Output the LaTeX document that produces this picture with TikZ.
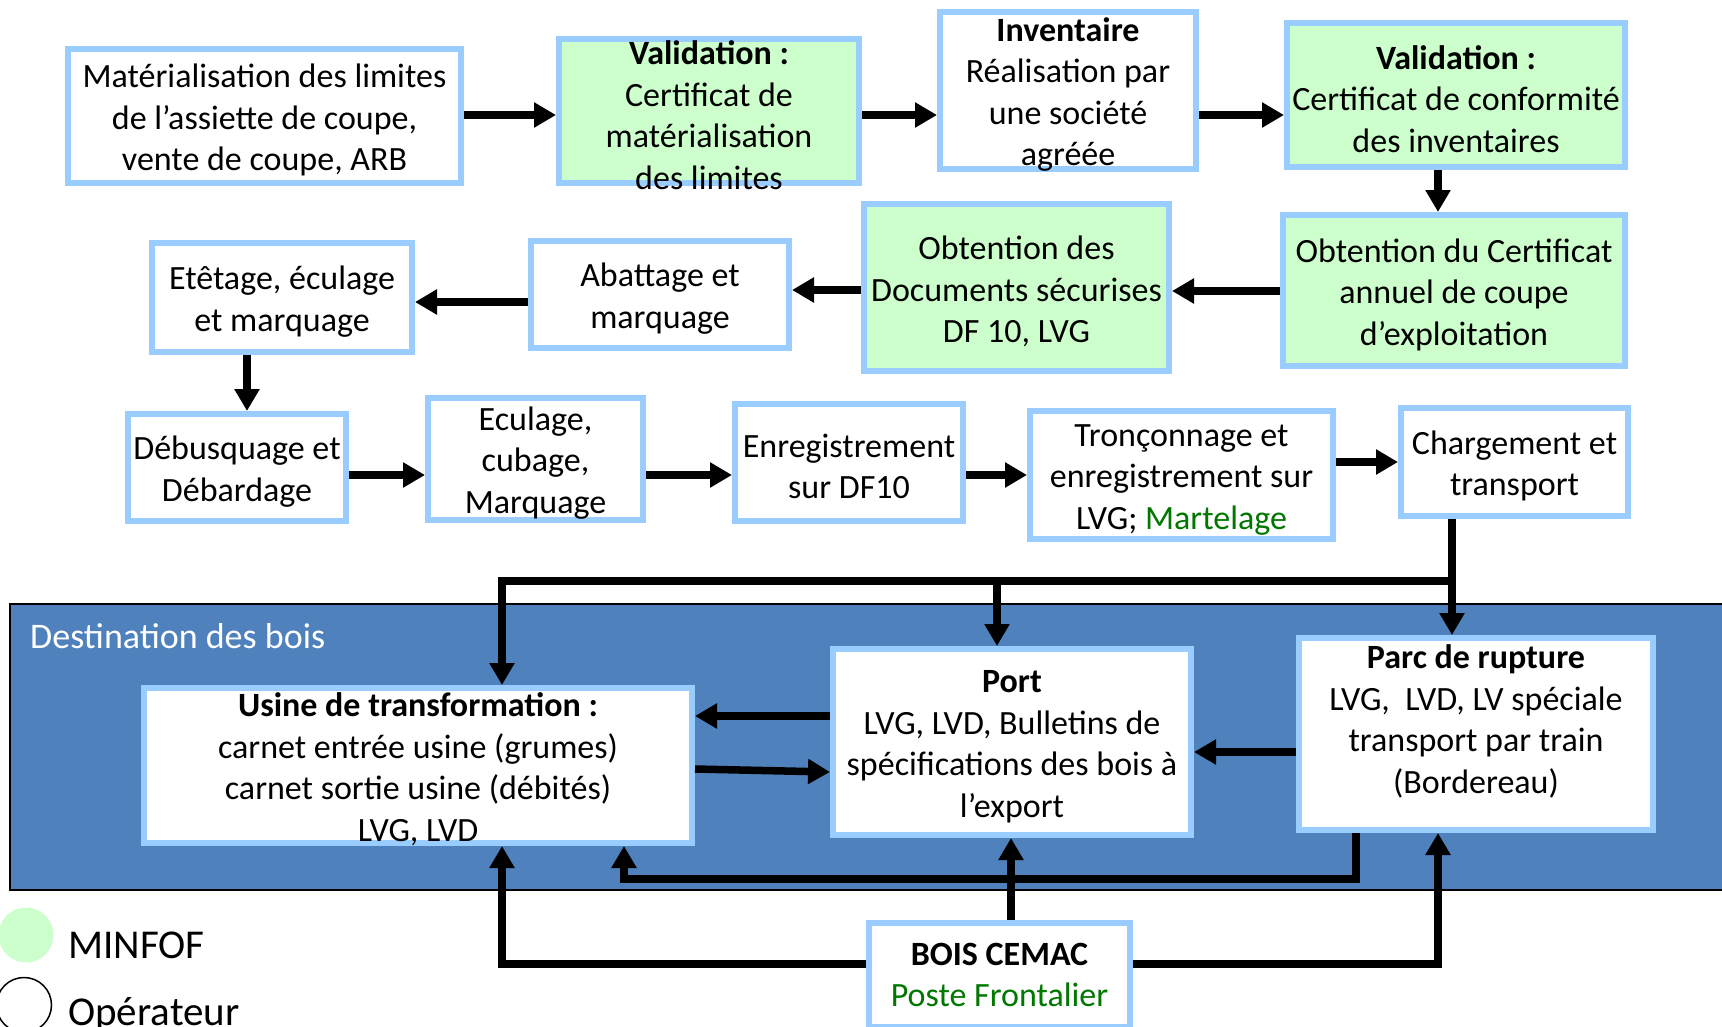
\documentclass[tikz,border=0pt]{standalone}
\usepackage{fontspec}
\setmainfont{Carlito}
\usetikzlibrary{arrows.meta,calc}
\definecolor{bordblue}{RGB}{153,204,255}
\definecolor{lgreen}{RGB}{204,255,204}
\definecolor{regblue}{RGB}{79,129,189}
\definecolor{fgreen}{RGB}{0,120,0}
% #1 box style, #2 name, #3 cx, #4 cy, #5 width, #6 height, #7 text shift, #8 text
\newcommand{\bnode}[8]{%
  \node[#1, minimum width=#5pt, minimum height=#6pt] (#2) at (#3,#4) {};
  \node[txt] (#2t) at ([yshift=-#7pt]#2.center) {#8};}
\begin{document}
\begin{tikzpicture}[x=1pt,y=-1pt,
  box/.style={draw=bordblue, line width=6pt, fill=white, inner sep=0pt},
  mbox/.style={box, fill=lgreen},
  txt/.style={align=center, inner sep=0pt, font=\fontsize{34}{41.5}\selectfont},
  arr/.style={line width=7.5pt, -{Triangle[length=22pt,width=24pt]}},
  ln/.style={line width=7.5pt}]
\useasboundingbox (0,0) rectangle (1722,1026);
\clip (0,0) rectangle (1722,1026);

% region
\draw[fill=regblue, line width=2.5pt] (10,604) rectangle (1740,890);
\node[anchor=base west, text=white, font=\fontsize{36}{43}\selectfont, inner sep=0pt] (dest) at (30,648) {Destination des bois};

% top row
\bnode{box}{A}{264.5}{116}{393}{134}{4}
  {Matérialisation des limites\\de l’assiette de coupe,\\vente de coupe, ARB}
\bnode{mbox}{B}{709}{111}{300}{144}{4}
  {\textbf{Validation :}\\Certificat de\\matérialisation\\des limites}
\bnode{box}{C}{1068}{90.5}{256}{157}{4}
  {\textbf{Inventaire}\\Réalisation par\\une société\\agréée}
\bnode{mbox}{D}{1456}{95}{338}{144}{4}
  {\textbf{Validation :}\\Certificat de conformité\\des inventaires}

% second row
\bnode{mbox}{E}{1454}{290.5}{342}{151}{4}
  {Obtention du Certificat\\annuel de coupe\\d'exploitation}
\bnode{mbox}{F}{1016.5}{287.5}{305}{167}{4}
  {Obtention des\\Documents sécurises\\DF 10, LVG}
\bnode{box}{G}{660}{294.5}{258}{107}{4}
  {Abattage et\\marquage}
\bnode{box}{H}{282}{297.5}{260}{109}{4}
  {Etêtage, éculage\\et marquage}

% third row
\bnode{box}{I}{237}{467.5}{218}{107}{4}
  {Débusquage et\\Débardage}
\bnode{box}{J}{535.5}{459}{215}{122}{4}
  {Eculage,\\cubage,\\Marquage}
\bnode{box}{K}{849}{462.5}{228}{117}{4}
  {Enregistrement\\sur DF10}
\bnode{box}{L}{1181.5}{475}{303}{128}{5}
  {Tronçonnage et\\enregistrement sur\\LVG; {\color{fgreen}Martelage}}
\bnode{box}{M}{1514.5}{462}{227}{108}{4}
  {Chargement et\\transport}

% destinations
\bnode{box}{N}{418}{765.5}{548}{155}{3.5}
  {\textbf{Usine de transformation :}\\carnet entrée usine (grumes)\\carnet sortie usine (débités)\\LVG, LVD}
\bnode{box}{O}{1012}{742}{358}{186}{4.5}
  {\textbf{Port}\\LVG, LVD, Bulletins de\\spécifications des bois à\\l’export}
\bnode{box}{P}{1476}{734}{354}{192}{-12.5}
  {\textbf{Parc de rupture}\\LVG,~ LVD, LV spéciale\\transport par train\\(Bordereau)}
\bnode{box}{Q}{999.5}{975}{261}{104}{0}
  {\textbf{BOIS CEMAC}\\{\color{fgreen}Poste Frontalier}}

% legend
\fill[lgreen] (26,935) circle (27.5pt);
\draw[line width=1.5pt, fill=white] (24,1005) circle (27.5pt);
\node[anchor=base west, font=\fontsize{41}{49}\selectfont, inner sep=0pt] (leg1) at (68,958) {MINFOF};
\node[anchor=base west, font=\fontsize{41}{49}\selectfont, inner sep=0pt] (leg2) at (68,1025) {Opérateur};

% connectors, top part
\draw[arr] (A.east |- 0,115) -- (B.west |- 0,115);
\draw[arr] (B.east |- 0,115) -- (C.west |- 0,115);
\draw[arr] (C.east |- 0,115) -- (D.west |- 0,115);
\draw[arr] (D.south -| 1438,0) -- (E.north -| 1438,0);
\draw[arr] (E.west |- 0,291) -- (F.east |- 0,291);
\draw[arr] (F.west |- 0,290) -- (G.east |- 0,290);
\draw[arr] (G.west |- 0,302) -- (H.east |- 0,302);
\draw[arr] (H.south -| 247,0) -- (I.north -| 247,0);
\draw[arr] (I.east |- 0,475) -- (J.west |- 0,475);
\draw[arr] (J.east |- 0,475) -- (K.west |- 0,475);
\draw[arr] (K.east |- 0,475) -- (L.west |- 0,475);
\draw[arr] (L.east |- 0,462) -- (M.west |- 0,462);

% distribution
\coordinate (hub) at (1452,581);
\coordinate (jport) at (997,581);
\draw[arr] (M.south -| hub) -- (P.north -| hub);
\draw[arr] (hub) -| (N.north -| 502,0);
\draw[arr] (jport) -- (O.north -| jport);

% between destinations
\draw[arr] (O.west |- 0,716) -- (N.east |- 0,716);
\draw[arr] (N.east |- 0,769) -- (O.west |- 0,772);
\draw[arr] (P.west |- 0,752) -- (O.east |- 0,752);
\draw[arr] (P.south -| 1356,0) |- (624,879) -- (N.south -| 624,0);
\draw[arr] (Q.north -| 1011,0) -- (O.south -| 1011,0);
\draw[arr] (Q.west |- 0,964) -| (N.south -| 502,0);
\draw[arr] (Q.east |- 0,964) -| (P.south -| 1438,0);
\end{tikzpicture}
\end{document}
